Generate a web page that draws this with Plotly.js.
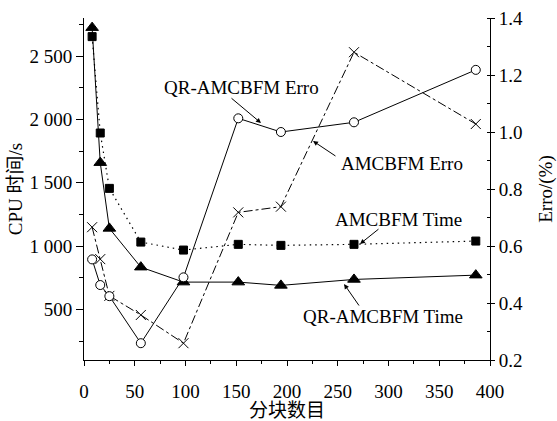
<!DOCTYPE html>
<html>
<head>
<meta charset="utf-8">
<script src="https://cdn.plot.ly/plotly-3.0.1.min.js"></script>
<style>html,body{margin:0;padding:0;background:#fff;}#chart{width:557px;height:421px;}</style>
</head>
<body>
<div id="chart"></div>
<script>
// Data
const blocks = [8, 16, 25, 56, 98, 152, 194, 266, 386];
const qrTime = [2724, 1658, 1139, 833, 715, 715, 689, 736, 770];
const amTime = [2653, 1892, 1455, 1031, 968, 1013, 1005, 1013, 1039];
const qrErro = [0.553, 0.463, 0.424, 0.259, 0.490, 1.048, 1.000, 1.034, 1.218];
const amErro = [0.666, 0.554, 0.425, 0.358, 0.259, 0.718, 0.738, 1.280, 1.028];

const labels = ['QR-AMCBFM Erro', 'AMCBFM Erro', 'AMCBFM Time', 'QR-AMCBFM Time'];
const xTitle = '分块数目';
const yTitle = 'CPU 时间/s';
const y2Title = 'Erro/(%)';

const FONT = 'Liberation Serif, Times New Roman, Noto Sans CJK SC, serif';

const traces = [
  {x: blocks, y: amTime, name: labels[2], mode: 'lines+markers', xaxis: 'x', yaxis: 'y',
   line: {color: '#000', width: 1.2, dash: '1.5px,4px'},
   marker: {symbol: 'square', size: 8, color: '#000', line: {color: '#000', width: 1}}},
  {x: blocks, y: qrTime, name: labels[3], mode: 'lines+markers', xaxis: 'x', yaxis: 'y',
   line: {color: '#000', width: 1},
   marker: {symbol: 'triangle-up', size: 11, color: '#000', line: {color: '#000', width: 1}}},
  {x: blocks, y: amErro, name: labels[1], mode: 'lines+markers', xaxis: 'x', yaxis: 'y2',
   line: {color: '#000', width: 1, dash: 'dashdot'},
   marker: {symbol: 'x-thin-open', size: 10, color: '#000', line: {color: '#000', width: 1}}},
  {x: blocks, y: qrErro, name: labels[0], mode: 'lines+markers', xaxis: 'x', yaxis: 'y2',
   line: {color: '#000', width: 1},
   marker: {symbol: 'circle', size: 9, color: '#fff', line: {color: '#000', width: 1}}}
];

const annText = {showarrow: false, xref: 'x', yref: 'y', xanchor: 'center', yanchor: 'middle',
                 font: {family: FONT, size: 19, color: '#000'}};
const annArrow = {text: '', showarrow: true, xref: 'x', yref: 'y', arrowhead: 2, arrowsize: 1,
                  arrowwidth: 1, arrowcolor: '#000', axref: 'pixel', ayref: 'pixel'};

const layout = {
  width: 557, height: 421,
  margin: {l: 84, r: 67, t: 18, b: 61},
  paper_bgcolor: '#fff', plot_bgcolor: '#fff',
  showlegend: false,
  separators: '. ',
  font: {family: FONT, size: 19, color: '#000'},
  xaxis: {
    range: [0, 400], tickvals: [0, 50, 100, 150, 200, 250, 300, 350, 400],
    ticks: 'outside', ticklen: 5, tickwidth: 1, tickcolor: '#000',
    minor: {dtick: 25, tick0: 0, ticks: 'outside', ticklen: 3, tickcolor: '#000', showgrid: false},
    showline: true, linecolor: '#000', linewidth: 1, showgrid: false, zeroline: false,
    ticklabelstandoff: 9,
    tickfont: {family: FONT, size: 19},
    title: {text: xTitle, font: {family: FONT, size: 19}, standoff: 4}
  },
  xaxis2: {
    overlaying: 'x', side: 'top', range: [0, 400], dtick: 25, tick0: 0,
    ticks: 'inside', ticklen: 5, tickcolor: '#000', showticklabels: false,
    showline: true, linecolor: '#000', linewidth: 1, showgrid: false, zeroline: false
  },
  yaxis: {
    range: [100, 2800], tickvals: [500, 1000, 1500, 2000, 2500], separatethousands: true,
    ticks: 'outside', ticklen: 7, tickwidth: 1, tickcolor: '#000',
    minor: {dtick: 250, tick0: 0, ticks: 'outside', ticklen: 4, tickcolor: '#000', showgrid: false},
    showline: true, linecolor: '#000', linewidth: 1, showgrid: false, zeroline: false,
    tickfont: {family: FONT, size: 19},
    title: {text: yTitle, font: {family: FONT, size: 19}, standoff: 1}
  },
  yaxis2: {
    overlaying: 'y', side: 'right', range: [0.2, 1.4], dtick: 0.2, tick0: 0.2, tickformat: '.1f',
    ticks: 'outside', ticklen: 4, tickwidth: 1, tickcolor: '#000',
    minor: {dtick: 0.1, tick0: 0.2, ticks: 'inside', ticklen: 3, tickcolor: '#000', showgrid: false},
    showline: true, linecolor: '#000', linewidth: 1, showgrid: false, zeroline: false,
    tickfont: {family: FONT, size: 19},
    title: {text: y2Title, font: {family: FONT, size: 19}, standoff: 20}
  },
  annotations: [
    Object.assign({}, annText, {text: labels[0], x: 154.7, y: 2251}),
    Object.assign({}, annArrow, {x: 174.4, y: 1971, ax: -31, ay: -26}),
    Object.assign({}, annText, {text: labels[1], x: 313, y: 1653}),
    Object.assign({}, annArrow, {x: 225.6, y: 1829, ax: 24, ay: 16}),
    Object.assign({}, annText, {text: labels[2], x: 309.7, y: 1213}),
    Object.assign({}, annArrow, {x: 271.9, y: 1016, ax: 20, ay: -16}),
    Object.assign({}, annText, {text: labels[3], x: 294.9, y: 442}),
    Object.assign({}, annArrow, {x: 256.2, y: 700, ax: 16, ay: 23})
  ]
};

Plotly.newPlot('chart', traces, layout, {displayModeBar: false, staticPlot: true});
</script>
</body>
</html>
